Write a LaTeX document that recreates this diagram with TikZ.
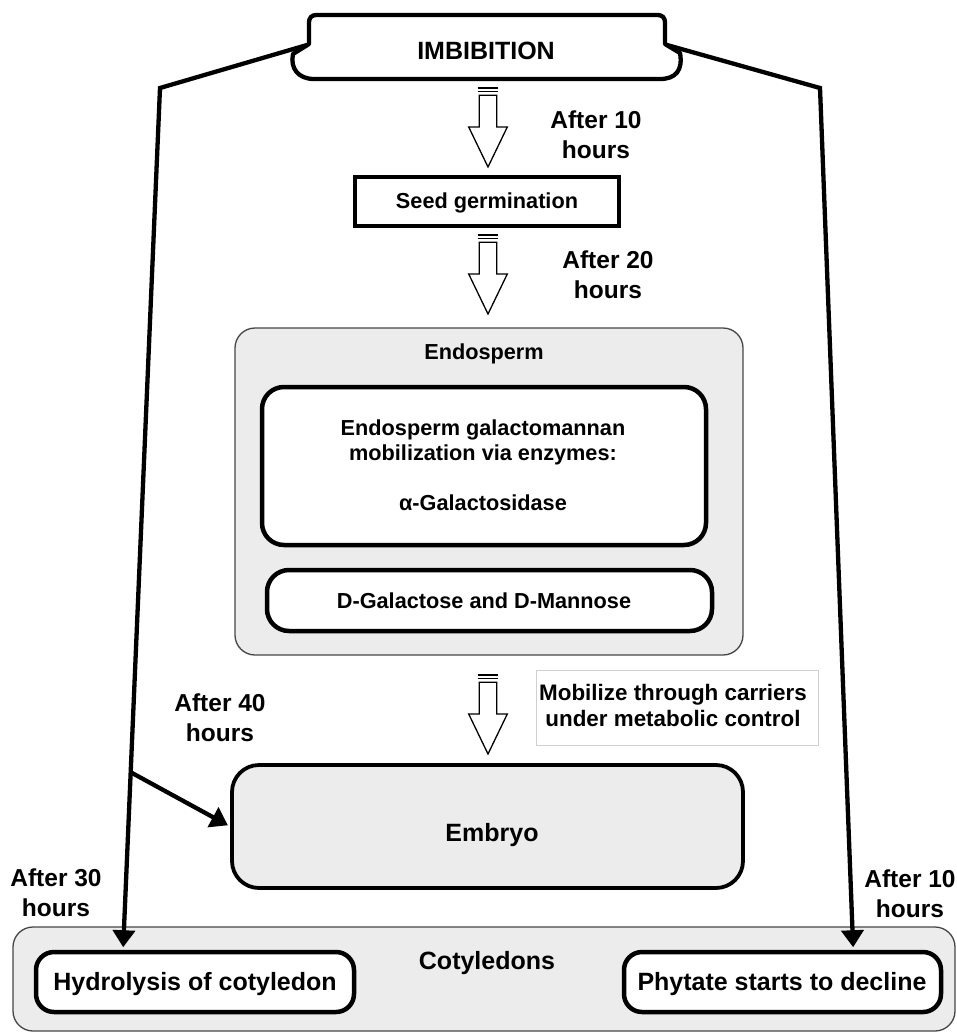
\documentclass[tikz,border=0pt]{standalone}
\usepackage{fontspec}
\setmainfont{Liberation Sans}
\usetikzlibrary{arrows.meta,calc}
\definecolor{panel}{RGB}{236,236,236}
\definecolor{edge}{RGB}{70,70,70}
\definecolor{faint}{RGB}{208,208,208}
\begin{document}
\begin{tikzpicture}[x=1pt,y=-1pt,
  txt/.style={font=\bfseries\fontsize{25}{30}\selectfont, anchor=base, inner sep=0pt, align=center},
  hrs/.style={font=\bfseries\fontsize{24.5}{29.5}\selectfont, anchor=base, inner sep=0pt, align=center},
  sml/.style={font=\bfseries\fontsize{21.7}{25}\selectfont, anchor=base, inner sep=0pt, align=center},
  mobfont/.style={font=\bfseries\fontsize{22.4}{25.5}\selectfont, anchor=base, inner sep=0pt, align=center},
  panelbox/.style={draw=edge, line width=1.3pt, fill=panel, rounded corners=20pt, inner sep=0pt},
  whitebox/.style={draw=black, line width=4.5pt, fill=white, rounded corners=22pt, inner sep=0pt},
  embbox/.style={draw=black, line width=3.8pt, fill=panel, rounded corners=27pt, inner sep=0pt},
  seedbox/.style={draw=black, line width=3.8pt, fill=white, inner sep=0pt},
  mobbox/.style={draw=faint, line width=1pt, fill=white, inner sep=0pt},
  leafbox/.style={draw=black, line width=4.5pt, fill=white, rounded corners=18pt, inner sep=0pt},
  conn/.style={line width=4.3pt, line join=miter, -{Triangle[length=17pt,width=22pt]}},
  imbshape/.style={draw=black, line width=4.3pt, fill=white, line join=round},
  pics/blockarr/.style={code={
    \draw[line width=1.3pt] (-10.3,0) -- (10.3,0) (-10.3,3.6) -- (10.3,3.6);
    \draw[line width=1.3pt, fill=white, line join=miter]
      (-8.7,7.2) -- (8.7,7.2) -- (8.7,39) -- (19.3,39) -- (0,79) -- (-19.3,39) -- (-8.7,39) -- cycle;
  }}
]
\useasboundingbox (0,0) rectangle (957,1034);

% outer panels
\node[panelbox, minimum width=508pt, minimum height=327pt] (endo) at (489,491.5) {};
\node[panelbox, minimum width=942pt, minimum height=104pt] (coty) at (484,979) {};

% IMBIBITION scroll shape
\draw[imbshape] (318,15) -- (656,15) .. controls (663,15) and (665,17) .. (665,24) -- (665,44)
  -- (680,53) .. controls (683,70) and (676,79) .. (660,79) -- (314,79)
  .. controls (298,79) and (290,68) .. (293,54) -- (309,44) -- (309,24)
  .. controls (309,17) and (311,15) .. (318,15) -- cycle;
\node[txt] (imbib) at (486,59) {IMBIBITION};
\coordinate (imbL) at (307,45);
\coordinate (imbR) at (667,45);

% boxes
\node[seedbox, minimum width=264pt, minimum height=49pt] (seed) at (487,201.5) {};
\node[whitebox, minimum width=444pt, minimum height=158pt] (enz) at (484,466) {};
\node[whitebox, minimum width=445pt, minimum height=61pt] (sug) at (489.5,600.5) {};
\node[mobbox, minimum width=282pt, minimum height=75pt] (mob) at (677,707.5) {};
\node[embbox, minimum width=511pt, minimum height=123pt] (emb) at (487.5,826.5) {};
\node[leafbox, minimum width=318pt, minimum height=60pt] (hydro) at (195,982) {};
\node[leafbox, minimum width=317pt, minimum height=60pt] (phyt) at (782.5,982) {};

% texts (multi-line nodes are anchored at the baseline of their last line)
\node[sml] (seedT) at (487,208) {Seed germination};
\node[sml] (endoT) at (484,359) {Endosperm};
\node[sml] (enzT) at (483,510) {Endosperm galactomannan\\mobilization via enzymes:\\[25pt]α-Galactosidase};
\node[sml] (sugT) at (484,608) {D-Galactose and D-Mannose};
\node[mobfont] (mobT) at (673,726) {Mobilize through carriers\\under metabolic control};
\node[txt] (embT) at (492,841) {Embryo};
\node[txt] (cotT) at (487,969) {Cotyledons};
\node[txt] (hydT) at (195,990) {Hydrolysis of cotyledon};
\node[txt] (phyT) at (782,990) {Phytate starts to decline};

% time labels
\node[hrs] (h1) at (596,158) {After 10\\hours};
\node[hrs] (h2) at (608,298) {After 20\\hours};
\node[hrs] (h4) at (220,741) {After 40\\hours};
\node[hrs] (h3) at (56,916) {After 30\\hours};
\node[hrs] (h5) at (910,917) {After 10\\hours};

% block arrows
\pic (ba1) at (488,88) {blockarr};
\pic (ba2) at (488,235) {blockarr};
\pic (ba3) at (488,675) {blockarr};

% side connectors
\coordinate (lbend) at (160,88);
\coordinate (rbend) at (820,88);
\coordinate (ltip) at ($(hydro.north west)!0.277!(hydro.north east)$);
\coordinate (rtip) at ($(phyt.north west)!0.72!(phyt.north east)$);
\draw[conn, shorten >=2.5pt] (imbL) -- (lbend) -- (ltip);
\draw[conn, shorten >=2.5pt] (imbR) -- (rbend) -- (rtip);
\coordinate (lbr) at ($(lbend)!0.794!(ltip)$);
\draw[conn, shorten >=2.5pt] (lbr) -- (emb.west);
\end{tikzpicture}
\end{document}
